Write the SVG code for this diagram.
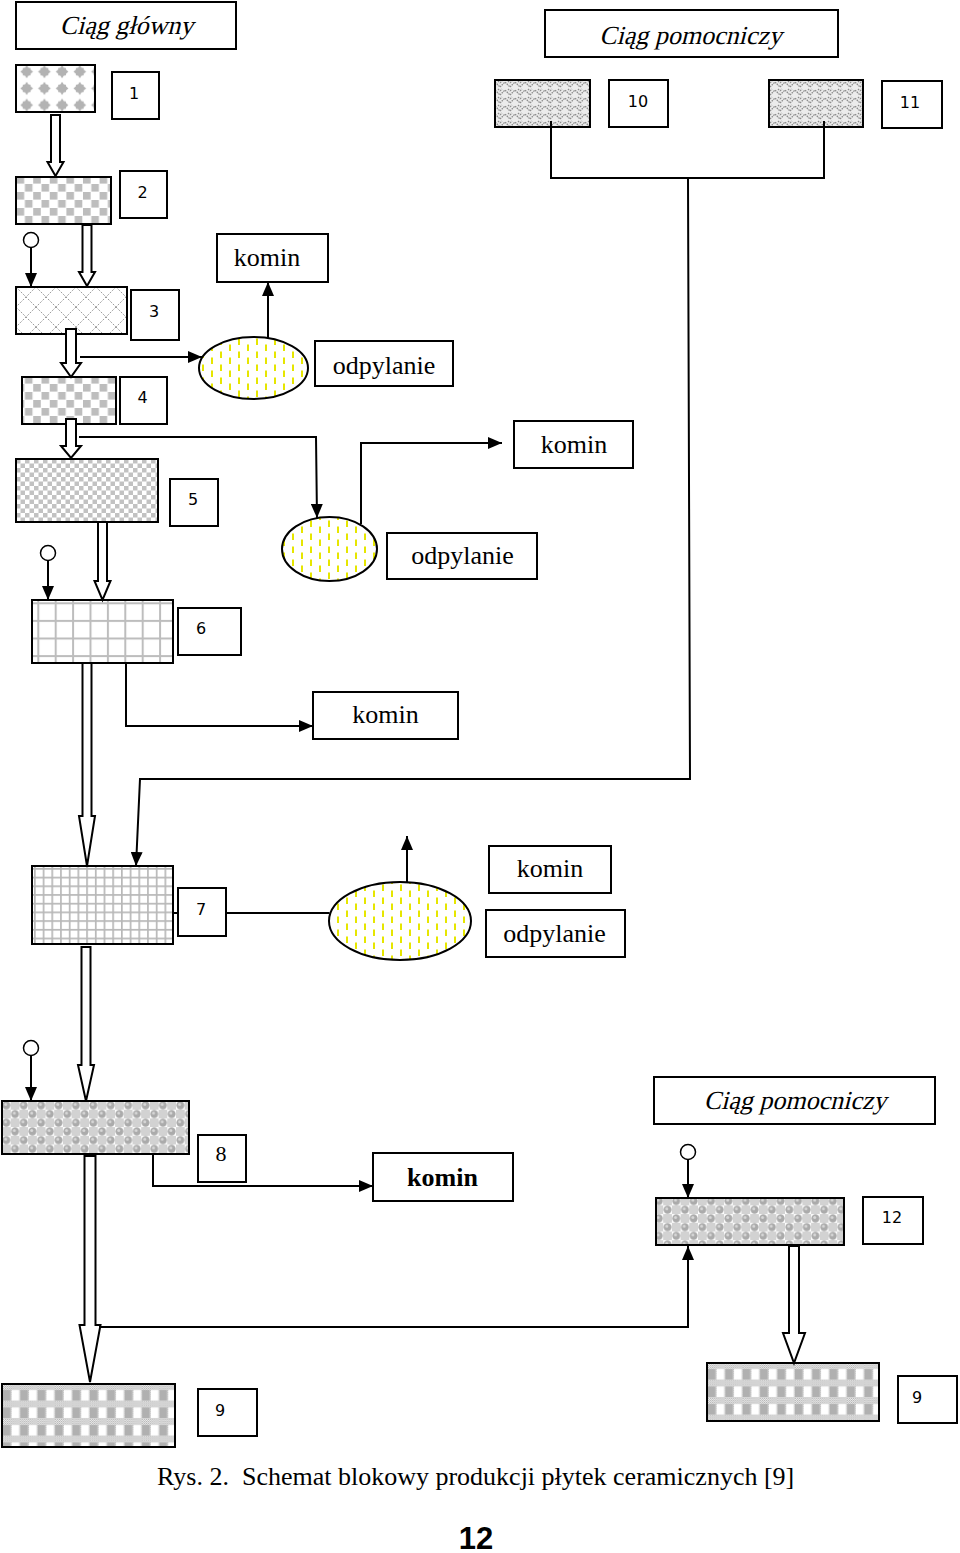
<svg xmlns="http://www.w3.org/2000/svg" width="960" height="1553" viewBox="0 0 960 1553">
<style>
.box{fill:#fff;stroke:#000;stroke-width:2}
.blk{stroke:#000;stroke-width:2}
.ln{fill:none;stroke:#000;stroke-width:2}
.ha{fill:#fff;stroke:#000;stroke-width:2;stroke-linejoin:miter}
.src{fill:#fff;stroke:#000;stroke-width:1.5}
.ell{fill:url(#py);stroke:#000;stroke-width:2}
.t{font-family:"Liberation Serif","Times New Roman",serif;font-size:26px;text-anchor:middle;fill:#000}
.ti{font-style:normal}
.b{font-weight:bold}
.n{font-family:"DejaVu Sans","Liberation Sans",sans-serif;font-size:16px;text-anchor:middle;fill:#000}
.cap{font-family:"Liberation Serif","Times New Roman",serif;font-size:26px;white-space:pre;fill:#000}
.pg{font-family:"Liberation Sans",Arial,sans-serif;font-size:31px;font-weight:bold;text-anchor:middle;fill:#000}
</style>
<defs>
<marker id="ah" markerUnits="userSpaceOnUse" markerWidth="14" markerHeight="12" refX="14" refY="6" orient="auto">
<path d="M0,0 L14,6 L0,12 Z" fill="#000"/>
</marker>
<pattern id="p1" patternUnits="userSpaceOnUse" x="17.85" y="63.35" width="17.7" height="16.7">
<rect width="17.7" height="16.7" fill="#fff"/>
<path d="M8.85,1.8 L10.6,4.3 L12.6,4.6 L12.9,6.5 L15.2,8.35 L12.9,10.2 L12.6,12.1 L10.6,12.4 L8.85,14.9 L7.1,12.4 L5.1,12.1 L4.8,10.2 L2.5,8.35 L4.8,6.5 L5.1,4.6 L7.1,4.3 Z" fill="#b3b3b3"/>
</pattern>
<pattern id="p2" patternUnits="userSpaceOnUse" x="0" y="0" width="16.6" height="16">
<rect width="16.6" height="16" fill="#fff"/>
<rect x="0" y="0" width="7.6" height="7.6" fill="#bdbdbd"/>
<rect x="8.3" y="8" width="7.6" height="7.6" fill="#bdbdbd"/>
</pattern>
<pattern id="p3" patternUnits="userSpaceOnUse" x="16" y="287" width="20" height="20">
<rect width="20" height="20" fill="#fff"/>
<path d="M0,0 L20,20 M20,0 L0,20" stroke="#9c9c9c" stroke-width="1" stroke-dasharray="2,1.4"/>
</pattern>
<pattern id="p5" patternUnits="userSpaceOnUse" x="16" y="459" width="9" height="9">
<rect width="9" height="9" fill="#fff"/>
<rect x="0" y="0" width="4.5" height="4.5" fill="#c2c2c2"/>
<rect x="4.5" y="4.5" width="4.5" height="4.5" fill="#c2c2c2"/>
</pattern>
<pattern id="p6" patternUnits="userSpaceOnUse" x="37.3" y="602.3" width="17.4" height="17.6">
<rect width="17.4" height="17.6" fill="#fff"/>
<rect x="0" y="0" width="2" height="17.6" fill="#bdbdbd"/>
<rect x="0" y="0" width="17.4" height="2" fill="#bdbdbd"/>
</pattern>
<pattern id="p7" patternUnits="userSpaceOnUse" x="34" y="868" width="8.7" height="8.7">
<rect width="8.7" height="8.7" fill="#fff"/>
<rect x="0" y="0" width="1.7" height="8.7" fill="#b8b8b8"/>
<rect x="0" y="0" width="8.7" height="1.7" fill="#b8b8b8"/>
</pattern>
<pattern id="p8" patternUnits="userSpaceOnUse" x="2" y="1101" width="17.4" height="17.4">
<rect width="17.4" height="17.4" fill="#fff"/>
<rect x="8.7" y="0" width="8.7" height="8.7" fill="#d2d2d2"/>
<rect x="0" y="8.7" width="8.7" height="8.7" fill="#d2d2d2"/>
<circle cx="4.35" cy="4.35" r="4" fill="#ababab"/>
<circle cx="13.05" cy="13.05" r="4" fill="#ababab"/>
<circle cx="3.6" cy="3.4" r="1.5" fill="#d8d8d8"/>
<circle cx="12.3" cy="12.1" r="1.5" fill="#d8d8d8"/>
</pattern>
<pattern id="dth" patternUnits="userSpaceOnUse" x="0" y="0" width="2" height="2">
<rect width="2" height="2" fill="#fff"/>
<rect x="0" y="0" width="1" height="1" fill="#a8a8a8"/>
<rect x="1" y="1" width="1" height="1" fill="#a8a8a8"/>
</pattern>
<pattern id="p9a" patternUnits="userSpaceOnUse" x="3" y="1384" width="17.4" height="17.5">
<rect width="17.4" height="17.5" fill="url(#dth)"/>
<rect x="0" y="6" width="7.4" height="10.5" fill="#b0b0b0"/>
<rect x="8.7" y="6" width="7.4" height="10.5" fill="#fff"/>
</pattern>
<pattern id="p9b" patternUnits="userSpaceOnUse" x="708" y="1363" width="17.4" height="17.5">
<rect width="17.4" height="17.5" fill="url(#dth)"/>
<rect x="0" y="6" width="7.4" height="10.5" fill="#b0b0b0"/>
<rect x="8.7" y="6" width="7.4" height="10.5" fill="#fff"/>
</pattern>
<pattern id="p10" patternUnits="userSpaceOnUse" x="0" y="0" width="10" height="8">
<rect width="10" height="8" fill="#ececec"/>
<path d="M0,7 L5,2 L10,7 M0,3 L2,1 M8,1 L10,3" fill="none" stroke="#8e8e8e" stroke-width="1.3" stroke-dasharray="1.6,0.8"/>
</pattern>
<pattern id="py" patternUnits="userSpaceOnUse" x="0" y="0" width="18" height="13">
<rect width="18" height="13" fill="#fff"/>
<rect x="4" y="0.5" width="2" height="6.5" fill="#e6e600"/>
<rect x="13" y="6.5" width="2" height="6.5" fill="#e6e600"/>
</pattern>
</defs>

<rect width="960" height="1553" fill="#fff"/>

<g id="title-main"><rect class="box" x="16" y="2" width="220" height="47"/><text class="t ti" transform="translate(126.5,34) skewX(-14)" x="0" y="0">Ciąg główny</text></g>
<g id="title-aux-top"><rect class="box" x="545" y="10" width="293" height="47"/><text class="t ti" transform="translate(690.5,44) skewX(-14)" x="0" y="0">Ciąg pomocniczy</text></g>
<g id="title-aux-bottom"><rect class="box" x="654" y="1077" width="281" height="47"/><text class="t ti" transform="translate(795,1109) skewX(-14)" x="0" y="0">Ciąg pomocniczy</text></g>

<g id="n1"><rect class="blk" x="16" y="65" width="79" height="47" fill="url(#p1)"/><rect class="box" x="112" y="72" width="47" height="47"/><text class="n" x="134" y="99">1</text></g>
<g id="n2"><rect class="blk" x="16" y="177" width="95" height="47" fill="url(#p2)"/><rect class="box" x="120" y="171" width="47" height="47"/><text class="n" x="142.5" y="198">2</text></g>
<g id="n3"><rect class="blk" x="16" y="287" width="111" height="47" fill="url(#p3)"/><rect class="box" x="131" y="290" width="48" height="50"/><text class="n" x="154" y="317">3</text></g>
<g id="n4"><rect class="blk" x="22" y="377" width="94" height="47" fill="url(#p2)"/><rect class="box" x="120" y="377" width="47" height="47"/><text class="n" x="142.5" y="403">4</text></g>
<g id="n5"><rect class="blk" x="16" y="459" width="142" height="63" fill="url(#p5)"/><rect class="box" x="170" y="479" width="48" height="47"/><text class="n" x="193" y="505">5</text></g>
<g id="n6"><rect class="blk" x="32" y="600" width="141" height="63" fill="url(#p6)"/><rect class="box" x="178" y="608" width="63" height="47"/><text class="n" x="201" y="634">6</text></g>
<g id="n7"><rect class="blk" x="32" y="866" width="141" height="78" fill="url(#p7)"/><rect class="box" x="178" y="888" width="48" height="48"/><text class="n" x="201" y="915">7</text></g>
<g id="n8"><rect class="blk" x="2" y="1101" width="187" height="53" fill="url(#p8)"/><rect class="box" x="198" y="1135" width="48" height="47"/><text class="t" x="221" y="1161" style="font-size:22px">8</text></g>
<g id="n9a"><rect class="blk" x="2" y="1384" width="173" height="63" fill="url(#p9a)"/><rect class="box" x="198" y="1389" width="59" height="47"/><text class="n" x="220" y="1416">9</text></g>
<g id="n10"><rect class="blk" x="495" y="80" width="95" height="47" fill="url(#p10)"/><rect class="box" x="609" y="80" width="59" height="47"/><text class="n" x="638" y="107">10</text></g>
<g id="n11"><rect class="blk" x="769" y="80" width="94" height="47" fill="url(#p10)"/><rect class="box" x="882" y="81" width="60" height="47"/><text class="n" x="910" y="108">11</text></g>
<g id="n12"><rect class="blk" x="656" y="1198" width="188" height="47" fill="url(#p8)"/><rect class="box" x="863" y="1197" width="60" height="47"/><text class="n" x="892" y="1223">12</text></g>
<g id="n9b"><rect class="blk" x="707" y="1363" width="172" height="58" fill="url(#p9b)"/><rect class="box" x="898" y="1376" width="59" height="47"/><text class="n" x="917" y="1403">9</text></g>

<g id="dedust1"><ellipse class="ell" cx="253.5" cy="368" rx="54.5" ry="31"/><rect class="box" x="315" y="341" width="138" height="45"/><text class="t" x="384" y="374">odpylanie</text></g>
<g id="chimney1"><rect class="box" x="217" y="234" width="111" height="48"/><text class="t" x="267" y="266">komin</text></g>
<g id="dedust2"><ellipse class="ell" cx="329.5" cy="549" rx="47.5" ry="32"/><rect class="box" x="387" y="533" width="150" height="46"/><text class="t" x="462.5" y="564">odpylanie</text></g>
<g id="chimney2"><rect class="box" x="514" y="421" width="119" height="47"/><text class="t" x="574" y="453">komin</text></g>
<g id="chimney3"><rect class="box" x="313" y="692" width="145" height="47"/><text class="t" x="385.5" y="723">komin</text></g>
<g id="dedust3"><ellipse class="ell" cx="400" cy="921" rx="71" ry="39"/><rect class="box" x="486" y="910" width="139" height="47"/><text class="t" x="554.5" y="942">odpylanie</text></g>
<g id="chimney4"><rect class="box" x="489" y="846" width="122" height="47"/><text class="t" x="550" y="877">komin</text></g>
<g id="chimney5"><rect class="box" x="373" y="1153" width="140" height="48"/><text class="t b" x="442.5" y="1186">komin</text></g>

<g id="connectors">
<polygon class="ha" points="51,115 60,115 60,162 63.5,162 55.5,176 47.5,162 51,162"/>
<polygon class="ha" points="82.5,225 91.5,225 91.5,272 95,272 87,286 79,272 82.5,272"/>
<polygon class="ha" points="66,329 76,329 76,363 81,363 71,377 61,363 66,363"/>
<polygon class="ha" points="66,419 76,419 76,446 81,446 71,458 61,446 66,446"/>
<polygon class="ha" points="98,522 107,522 107,581 110.5,581 102.5,600 94.5,581 98,581"/>
<polygon class="ha" points="82.5,663 91.5,663 91.5,816 95,816 87,866 79,816 82.5,816"/>
<polygon class="ha" points="81.5,947 90.5,947 90.5,1065 94,1065 86,1101 78,1065 81.5,1065"/>
<polygon class="ha" points="84.5,1156 95.5,1156 95.5,1325 100.5,1325 90,1382 79.5,1325 84.5,1325"/>
<polygon class="ha" points="789,1246 799,1246 799,1333 805,1333 794,1363 783,1333 789,1333"/>

<circle class="src" cx="31" cy="240" r="7.5"/>
<line class="ln" x1="31" y1="247.5" x2="31" y2="287" marker-end="url(#ah)"/>
<circle class="src" cx="48" cy="553" r="7.5"/>
<line class="ln" x1="48" y1="560.5" x2="48" y2="600" marker-end="url(#ah)"/>
<circle class="src" cx="31" cy="1048" r="7.5"/>
<line class="ln" x1="31" y1="1055.5" x2="31" y2="1101" marker-end="url(#ah)"/>
<circle class="src" cx="688" cy="1152" r="7.5"/>
<line class="ln" x1="688" y1="1159.5" x2="688" y2="1198" marker-end="url(#ah)"/>

<polyline class="ln" points="80,357 202,357" marker-end="url(#ah)"/>
<polyline class="ln" points="268,338 268,282" marker-end="url(#ah)"/>
<polyline class="ln" points="79,437 316,437 317,518" marker-end="url(#ah)"/>
<polyline class="ln" points="361,524 361,443 502,443" marker-end="url(#ah)"/>
<polyline class="ln" points="126,663 126,726 313,726" marker-end="url(#ah)"/>
<polyline class="ln" points="551,121 551,178 824,178 824,121"/>
<polyline class="ln" points="688,178 690,779 140,779 136,866" marker-end="url(#ah)"/>
<line class="ln" x1="173" y1="913" x2="178" y2="913"/>
<line class="ln" x1="226" y1="913" x2="329.5" y2="913"/>
<polyline class="ln" points="407,882 407,836" marker-end="url(#ah)"/>
<polyline class="ln" points="153,1154 153,1186 373,1186" marker-end="url(#ah)"/>
<polyline class="ln" points="99,1327 688,1327 688,1246" marker-end="url(#ah)"/>
</g>

<text class="cap" x="157" y="1485">Rys. 2.  Schemat blokowy produkcji płytek ceramicznych [9]</text>
<text class="pg" x="476" y="1549">12</text>
</svg>
